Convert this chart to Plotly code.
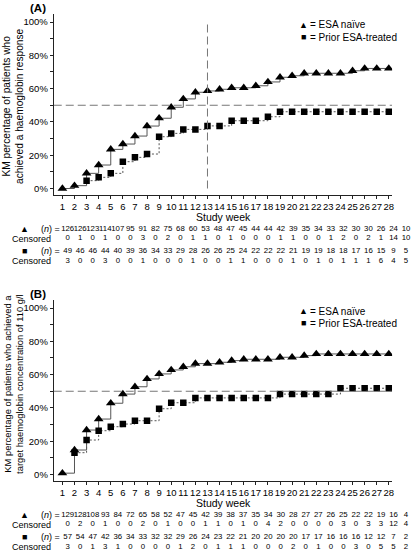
import plotly.graph_objects as go

# ---------------- data ----------------
weeks = list(range(1, 29))
week_labels = [str(w) for w in weeks]

# Panel A: KM % achieving haemoglobin response
a_naive_weeks = list(range(1, 29))
a_naive_pct = [0, 1.7, 9.1, 14.1, 23.5, 26.7, 31.5, 37.5, 42.2, 48.8, 53.8, 57.8, 58.6, 59.6,
               60.5, 60.5, 61.7, 64.0, 66.8, 67.7, 69.2, 69.2, 69.2, 69.2, 70.7, 72.1, 72.1, 72.1]
a_prior_weeks = list(range(3, 29))
a_prior_pct = [4.7, 6.7, 9.1, 16.1, 18.7, 20.7, 31.1, 33.1, 35.5, 35.5, 37.6, 37.6, 40.7, 40.7,
               40.7, 43.1, 46.1, 46.1, 46.1, 46.1, 46.1, 46.1, 46.1, 46.1, 46.1, 46.1]

# Panel B: KM % achieving target Hb 110 g/l
b_naive_weeks = list(range(1, 29))
b_naive_pct = [0.8, 14.7, 26.7, 33.3, 42.8, 48.3, 52.7, 57.4, 60.4, 62.8, 64.7, 66.6, 66.6, 67.4,
               68.4, 69.2, 69.2, 69.2, 70.4, 70.4, 71.4, 72.4, 72.4, 72.4, 72.4, 72.4, 72.4, 72.4]
b_prior_weeks = list(range(2, 29))
b_prior_pct = [13.1, 20.7, 26.3, 28.7, 30.3, 32.3, 32.3, 39.5, 43.1, 43.1, 46.0, 46.0, 46.0, 46.0,
               46.0, 46.0, 46.0, 48.3, 48.3, 48.3, 48.3, 48.3, 51.8, 51.8, 51.8, 51.8, 51.8]

# Risk tables
a_naive_n = [126, 126, 123, 114, 107, 95, 91, 82, 75, 68, 60, 53, 48, 47, 45, 44, 44, 42, 39, 35,
             34, 33, 32, 30, 30, 26, 24, 10]
a_naive_cens = [0, 1, 0, 1, 0, 0, 3, 0, 2, 0, 1, 1, 0, 1, 0, 0, 0, 1, 1, 0, 0, 1, 2, 0, 2, 1, 14, 10]
a_prior_n = [49, 46, 46, 44, 40, 39, 36, 34, 33, 29, 28, 26, 26, 25, 24, 22, 22, 22, 21, 19,
             19, 18, 18, 17, 16, 15, 9, 5]
a_prior_cens = [3, 0, 0, 3, 0, 0, 1, 0, 0, 0, 1, 0, 0, 1, 1, 0, 0, 0, 1, 0, 1, 0, 1, 1, 1, 6, 4, 5]

b_naive_n = [129, 128, 108, 93, 84, 72, 65, 58, 52, 47, 45, 42, 39, 38, 37, 35, 34, 30, 28, 27,
             27, 26, 25, 22, 22, 19, 16, 4]
b_naive_cens = [0, 2, 0, 1, 0, 0, 2, 0, 1, 0, 0, 1, 1, 0, 1, 0, 4, 2, 0, 0, 0, 0, 3, 0, 3, 3, 12, 4]
b_prior_n = [57, 54, 47, 42, 36, 34, 33, 32, 32, 29, 26, 24, 23, 22, 21, 20, 20, 20, 20, 17,
             17, 16, 16, 16, 12, 12, 7, 2]
b_prior_cens = [3, 0, 1, 3, 1, 0, 0, 0, 0, 1, 2, 0, 1, 1, 1, 0, 0, 0, 2, 0, 1, 0, 0, 3, 0, 5, 5, 2]

y_tickvals = [0, 10, 20, 30, 40, 50, 60, 70, 80, 90, 100]
y_ticktext = ["0%", "", "20%", "", "40%", "", "60%", "", "80%", "", "100%"]

# ---------------- layout helpers ----------------
W, H = 416, 556
FONT = "Liberation Sans, Arial, sans-serif"
ROW_Y = [0, 1, 2.35, 3.35]
PX_ROW = 9.5
B_OFF = 286


def px_x(p):
    return p / W


def px_y(p):
    return 1 - p / H


fig = go.Figure()

LINE_COL = "#555555"


def add_km(weeks_, pct, sym, size, dash, xa, ya):
    fig.add_trace(go.Scatter(
        x=weeks_, y=pct, mode="lines+markers", line_shape="hv",
        line=dict(color=LINE_COL, width=1, dash=dash),
        marker=dict(symbol=sym, size=size, color="black"),
        xaxis=xa, yaxis=ya, showlegend=False, hoverinfo="skip"))


add_km(a_naive_weeks, a_naive_pct, "triangle-up", 8.5, "solid", "x", "y")
add_km(a_prior_weeks, a_prior_pct, "square", 6.5, "2px,2px", "x", "y")
add_km(b_naive_weeks, b_naive_pct, "triangle-up", 8.5, "solid", "x2", "y2")
add_km(b_prior_weeks, b_prior_pct, "square", 6.5, "2px,2px", "x2", "y2")


def add_row(vals, row, xa, ya):
    fig.add_trace(go.Scatter(
        x=weeks, y=[ROW_Y[row]] * len(weeks), mode="text",
        text=[str(v) for v in vals], textposition="middle center",
        textfont=dict(family=FONT, size=7.8, color="black"),
        xaxis=xa, yaxis=ya, showlegend=False, hoverinfo="skip", cliponaxis=False))


for i, vals in enumerate([a_naive_n, a_naive_cens, a_prior_n, a_prior_cens]):
    add_row(vals, i, "x3", "y3")
for i, vals in enumerate([b_naive_n, b_naive_cens, b_prior_n, b_prior_cens]):
    add_row(vals, i, "x4", "y4")

# main axes geometry (pixels)
X_L, X_R = 54, 394
WK1_PX, WK28_PX = 62.7, 390.7
sc = (WK28_PX - WK1_PX) / 27
x_range = [1 - (WK1_PX - X_L) / sc, 28 + (X_R - WK28_PX) / sc]
Y_TOP, Y_BOT, Y0_PX, PX_PCT = 14, 195, 188.5, 1.665
y_range = [-(Y_BOT - Y0_PX) / PX_PCT, (Y0_PX - Y_TOP) / PX_PCT]

# table axes geometry
T1, T28 = 68, 408
tsc = (T28 - T1) / 27
tx_range = [1 - T1 / tsc, 1 + (W - T1) / tsc]
ROW0_A = 229

axis_common = dict(showgrid=False, zeroline=False, showline=True, linecolor="#222222",
                   linewidth=1, ticks="outside", ticklen=3, tickcolor="#222222",
                   tickangle=0,
                   tickfont=dict(family=FONT, size=9.5, color="black"))

layout = dict(
    width=W, height=H, margin=dict(l=0, r=0, t=0, b=0),
    paper_bgcolor="white", plot_bgcolor="white",
    font=dict(family=FONT, color="black"),
)
for k, off in [("", 0), ("2", B_OFF)]:
    layout["xaxis" + k] = dict(axis_common, domain=[px_x(X_L), px_x(X_R)], range=x_range,
                               tickmode="array", tickvals=weeks, ticktext=week_labels,
                               anchor="y" + k)
    layout["yaxis" + k] = dict(axis_common, domain=[px_y(Y_BOT + off), px_y(Y_TOP + off)],
                               range=y_range, tickmode="array", tickvals=y_tickvals,
                               ticktext=y_ticktext, anchor="x" + k)

for k, off in [("3", 0), ("4", B_OFF)]:
    top_px = ROW0_A + off - 9
    bot_px = min(ROW0_A + off + 41, H)
    layout["xaxis" + k] = dict(domain=[0, 1], range=tx_range, visible=False, anchor="y" + k)
    layout["yaxis" + k] = dict(domain=[px_y(bot_px), px_y(top_px)],
                               range=[(bot_px - ROW0_A - off) / PX_ROW, (top_px - ROW0_A - off) / PX_ROW],
                               visible=False, anchor="x" + k)
fig.update_layout(**layout)

DASH_COL = "#777777"
fig.add_shape(type="line", xref="x", yref="y", x0=13, x1=13, y0=0, y1=100,
              line=dict(color=DASH_COL, width=1, dash="8px,4px"))
fig.add_shape(type="line", xref="x", yref="y", x0=x_range[0], x1=x_range[1], y0=50, y1=50,
              line=dict(color=DASH_COL, width=1, dash="8px,4px"))
fig.add_shape(type="line", xref="x2", yref="y2", x0=x_range[0], x1=x_range[1], y0=50, y1=50,
              line=dict(color=DASH_COL, width=1, dash="8px,4px"))

ann = []


def txt(text, xp, yp, size, xanchor="center", yanchor="middle", angle=0, bold=False,
        xref="paper", yref="paper"):
    if bold:
        text = "<b>" + text + "</b>"
    ann.append(dict(text=text, x=xp, y=yp, xref=xref, yref=yref, showarrow=False,
                    xanchor=xanchor, yanchor=yanchor, textangle=angle,
                    font=dict(family=FONT, size=size, color="black")))


for lab, off, title, tsize, tcen in [
        ("(A)", 0, "KM percentage of patients who<br>achieved a haemoglobin response", 10.2, 106),
        ("(B)", B_OFF, "KM percentage of patients who achieved a<br>target haemoglobin concentration of 110 g/l", 9.4, 384)]:
    txt(lab, px_x(28), px_y(8 + off), 11.5, xanchor="left", bold=True)
    txt(title, px_x(13), px_y(tcen), tsize, angle=-90)
    txt("Study week", px_x(224.5), px_y(217 + off), 10.5)
    txt("▲", px_x(305), px_y(25 + off), 9)
    txt("= ESA naïve", px_x(309), px_y(25 + off), 10, xanchor="left")
    txt("■", px_x(305), px_y(37 + off), 9)
    txt("= Prior ESA-treated", px_x(309), px_y(37 + off), 10, xanchor="left")

for ya in ["y3", "y4"]:
    txt("▲", px_x(25), ROW_Y[0], 9, yref=ya)
    txt("(<i>n</i>) =", px_x(62), ROW_Y[0], 9, xanchor="right", yref=ya)
    txt("Censored", px_x(53), ROW_Y[1], 9, xanchor="right", yref=ya)
    txt("■", px_x(25), ROW_Y[2], 9, yref=ya)
    txt("(<i>n</i>) =", px_x(62), ROW_Y[2], 9, xanchor="right", yref=ya)
    txt("Censored", px_x(53), ROW_Y[3], 9, xanchor="right", yref=ya)

fig.update_layout(annotations=ann)
fig.write_html("out.html", config={"displayModeBar": False},
               post_script="document.body.style.margin='0';document.body.style.overflow='hidden';")
